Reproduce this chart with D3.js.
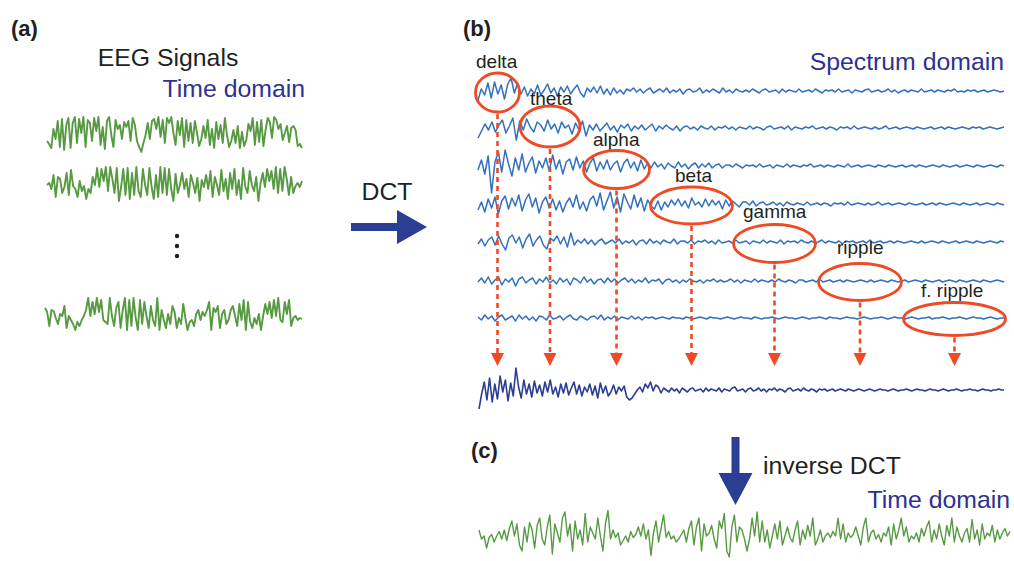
<!DOCTYPE html>
<html><head><meta charset="utf-8">
<script src="https://cdn.jsdelivr.net/npm/d3@7"></script>
<style>body{margin:0;background:#fff}svg{display:block}text{font-family:"Liberation Sans",Arial,sans-serif}</style>
</head><body>
<script>
// ---------- data (amplitude units ~ px) ----------
const eeg1 = [-6,-9,-13,6,-4,14,-12,16,-15,10,17,-13,12,18,-8,16,2,18,-12,15,12,-6,17,4,18,-10,8,-14,14,18,0,-12,15,6,10,-4,13,8,14,-6,17,10,-6,-12,-17,-8,0,12,-4,14,16,6,18,-2,15,-8,17,12,18,2,-10,14,0,17,-12,15,-6,12,-8,14,2,-11,-4,9,-3,15,-10,6,-13,13,-4,10,-8,17,0,-12,-6,5,-8,9,-13,3,-11,-5,11,4,17,-10,13,-7,15,-11,5,17,13,-3,18,15,6,11,-5,2,9,-7,7,9,5,-11,-9,-13];
const eeg2 = [-2,0,-6,8,-14,6,4,-10,-4,10,-12,13,-3,-6,-14,2,-8,-3,-16,-6,-10,6,-2,15,-4,14,2,16,-8,16,4,-10,15,-18,-4,14,-12,15,-16,10,-12,16,-8,-14,14,-2,-12,15,-4,-16,8,-14,16,-10,15,-12,14,-6,-18,9,-10,-2,10,-6,4,-14,8,0,-10,5,-18,3,-4,8,-6,12,-14,6,-2,-12,13,-8,4,-16,10,-6,14,-12,3,-16,15,-4,-10,12,-2,-8,6,-18,0,10,-4,14,2,12,-6,16,-10,14,-8,16,4,-12,6,-10,-3,0,-4,2];
const eeg3 = [6,2,-12,4,3,-4,-10,0,-2,8,-14,-2,-6,-10,-16,-8,-12,-6,-2,4,16,-2,12,0,16,2,14,-6,-8,-10,16,-2,-12,6,12,-14,4,16,-16,14,-12,16,-4,-16,14,-10,12,-2,-14,8,-6,-12,16,-16,4,-6,-14,0,-10,8,2,-14,-4,-10,10,-4,-16,-8,-6,-12,0,4,-6,2,-2,4,12,-16,6,2,8,-14,0,4,-10,-6,4,8,-2,-12,10,-6,14,-16,12,-8,-14,-4,-10,0,-16,-2,10,0,12,-4,14,-2,16,-6,-8,12,0,14,-12,-4,-2,-6,-4,-5];

const bandNames = ["delta","theta","alpha","beta","gamma","ripple","f. ripple"];

const specDelta = [-9,2,-4,8,-7,9,-3,6,-8,7,13,-2,8,-3,4,-5,2,-3,6,-4,1,7,-2,3,-5,4,-1,5,-3,2,6,-2,-6,3,-1,4,-2,5,-3,2,-4,3,-2,1,-3,2,0,3,-1,2,-2,1,3,-2,0,2,-1,3,-2,1,-1,2,-3,1,2,-1,0,3,-2,1,-1,2,0,-2,3,-1,1,-2,2,0,-1,1,-1,2,0,-2,1,2,-1,0,1,-2,2,-1,1,0,-1,2,-1,0,1,-1,2,0,-2,1,0,1,-1,2,-1,0,1,-2,1,0,-1,1,2,-1,0,1,-1,0,2,-1,1,-2,0,1,-1,1,0,-1,2,-1,0,1,-1,1,0,-1,1,0,2,-1,0,-1,1,0,1,-1,0,1,-1,0,1,0,-1,0];
const specTheta = [-10,-3,4,-2,6,-4,3,8,-5,2,10,-12,7,-2,9,1,-4,6,3,-3,8,-1,4,-5,6,0,3,-6,5,-2,7,-8,3,-2,4,-3,1,5,-2,2,-4,3,0,4,-3,2,-1,3,-2,1,4,-3,2,-1,3,0,-2,2,-3,1,2,-1,1,-2,2,0,-1,2,-2,1,0,2,-1,1,-2,1,0,-1,2,-1,1,0,-2,1,2,-1,0,1,-1,2,-2,1,0,-1,1,0,2,-1,0,1,-1,1,0,-2,1,0,1,-1,2,-1,0,1,0,-1,1,-1,0,2,-1,0,1,-1,0,1,0,-1,1,0,-1,0,1,-1,0,1,-1,1,0,-1,0,1,0,-1,1,0,1,-1,0,1,0,-1,0,1];
const specAlpha = [-4,6,-8,10,-27,4,14,-6,16,2,-10,8,-4,12,-6,3,9,-7,5,-2,8,-5,11,-3,6,-8,4,7,-4,9,-2,5,-6,3,8,-5,4,-3,6,-4,2,5,-6,3,7,-2,4,-5,6,-3,3,-2,4,-1,2,-3,3,0,-2,4,-1,2,-3,1,3,-2,2,-1,3,-2,1,2,-2,1,1,-1,2,0,-2,1,0,1,-1,2,-1,0,1,-2,1,0,-1,2,-1,1,0,-1,1,0,2,-1,0,1,-1,1,0,-1,1,0,-1,2,-1,0,1,-1,0,1,0,-1,1,0,-1,1,0,-1,0,1,-1,0,1,-1,1,0,-1,0,1,0,-1,1,0,-1,0,1,-1,0,1,0,-1,1,0,-1,0,1,0,-1,1,0];
const specBeta = [-6,2,-8,5,-4,7,-10,3,8,-5,6,-2,9,-7,4,10,-3,6,-9,2,7,-4,5,-6,3,-8,1,6,-3,9,-5,2,-7,4,8,-2,11,-6,3,12,-4,7,-8,10,2,-5,9,-3,6,-7,4,-2,-5,3,-6,2,-3,4,-1,5,-2,3,-4,6,-1,2,-3,5,-2,4,-1,3,-5,4,-2,3,0,-3,2,2,-1,3,-2,1,2,-1,0,2,-1,1,-2,2,0,-1,1,0,-1,2,-1,0,1,-1,1,0,-2,1,0,1,-1,2,-1,0,1,0,-1,1,-1,0,2,-1,0,1,-1,0,1,0,-1,1,0,-1,0,1,-1,0,1,-1,1,0,-1,0,1,0,-1,1,0,-1,0,1,-1,0,1,0,-1,1,0,-1];
const specGamma = [-2,3,-4,2,5,-3,6,-2,-8,4,7,-1,5,-6,3,8,-4,2,6,-3,-7,4,1,6,-2,5,-5,9,-3,2,-1,3,-2,2,-3,1,3,-2,0,2,-1,3,-2,1,-1,2,-3,1,2,-2,3,-1,1,-2,2,0,-1,3,-2,1,1,-1,2,-2,1,0,2,-1,1,-2,2,-1,0,1,-1,2,-1,0,1,-2,1,0,-1,2,-1,1,0,-1,2,-2,1,0,1,-1,2,0,-1,1,-1,0,2,-1,1,0,-1,1,-2,1,0,1,-1,0,1,-1,2,-1,0,1,-1,0,1,-1,1,0,-1,0,1,0,-1,1,-1,0,1,0,-1,1,0,-1,0,1,-1,0,1,0,-1,1,0,-1,0,1,0,-1,1,0];
const specRipple = [-1,3,-2,4,-3,1,4,-4,2,-1,3,-5,2,4,-2,1,3,-3,2,-1,4,-2,1,-3,3,-1,2,-4,3,1,-2,4,-1,2,-3,1,2,-2,3,-1,2,-2,1,3,-1,2,-2,1,-1,3,-2,1,0,2,-3,1,2,-1,1,-2,1,-1,2,0,-1,1,-2,1,0,2,-1,1,-1,0,2,-1,1,-2,1,0,-1,2,-1,1,0,-1,1,-1,2,0,-1,1,0,-2,1,1,-1,0,1,-1,2,-1,0,1,-1,0,1,-1,1,0,-1,0,1,0,-1,1,-1,0,1,0,-1,1,0,-1,0,1,-1,0,1,0,-1,1,0,-1,0,1,-1,0,1,0,-1,1,0,-1,0,1,0,-1,1,0,-1,0,1,0,-1];
const specFast = [1,-2,3,-1,2,-3,1,3,-2,0,2,-3,3,-1,2,-2,1,-3,2,1,-2,3,-1,0,2,-2,1,3,-1,-2,2,0,-2,1,2,-1,3,-2,1,-1,2,-2,1,0,-1,2,-1,1,-2,1,0,1,-1,0,1,0,-1,1,0,0,-1,1,0,-1,0,1,0,-1,1,0,0,-1,0,1,0,-1,0,1,0,0,-1,1,0,-1,0,0,1,0,-1,0,1,0,0,-1,0,1,0,-1,0,0,1,0,-1,1,0,0,-1,0,1,0,0,-1,0,1,0,-1,0,0,1,0,-1,0,1,0,0,-1,0,1,0,-1,0,0,1,-1,0,0,1,0,-1,0,0,1,0,-1,0,1,0,0,-1,0,1,0,-1,0,0];

const spectrum = [-19,-4,8,-10,12,-12,6,-9,14,-2,10,-11,7,-6,22,3,-8,10,-4,6,-7,9,-3,5,-6,8,-2,10,-4,3,-7,6,-3,7,-5,2,8,-4,5,-6,3,-2,6,-5,4,-8,7,-3,4,-6,-2,5,-4,3,-1,4,-7,-10,-8,-4,0,3,-2,6,2,8,-1,5,3,-3,2,0,-2,2,-1,1,-3,2,0,-2,1,2,-1,0,1,-2,2,-1,1,0,-1,2,-2,1,0,-1,2,3,-1,0,1,-2,1,2,-1,0,2,-1,1,-2,1,0,2,-1,1,0,-2,1,2,-1,0,1,-1,2,0,-1,1,0,-2,1,0,1,-1,0,1,-1,0,1,0,-1,1,0,-1,0,1,0,-1,0,1,0,-1,0,1,0,0,-1,0,1,0,-1,0,0,1,0,-1,0,1,0,0,-1,0,1,0,0,-1,0,1,0,-1,0,0,1,0,-1,0,0,1,0,0,-1,0,1,0,0,-1,0,0,1,0,0];

const reconstructed = [2,-4,-2,-10,-3,-1,-6,-2,1,-4,2,-5,3,8,-2,6,-8,-12,4,-6,7,2,-10,5,10,-4,-8,4,12,-14,6,0,-6,10,14,-2,6,-12,8,-4,2,-8,13,-6,4,0,-4,10,-2,-12,6,15,-4,2,-3,0,-8,-5,-2,-6,1,-3,-1,4,-2,6,-4,2,-15,0,8,-6,3,12,-3,1,-4,-2,-6,-4,-1,2,-6,3,8,-8,4,10,-12,6,-2,0,5,-4,-10,8,3,13,-12,-16,4,12,-6,4,2,-4,-12,-4,10,-2,14,-6,8,-6,2,-10,-2,6,-4,8,-8,-2,4,-3,-6,2,8,-8,2,-4,5,-2,10,-8,-4,2,-6,-2,0,-3,1,-2,10,-4,6,-6,0,-3,-1,4,-2,-8,4,10,-6,0,2,-4,-1,-6,0,-2,4,-8,6,-4,2,10,-2,4,-6,-2,-4,0,-6,3,-2,4,8,-6,2,-4,6,-2,-8,5,-2,10,-6,4,-2,-6,0,3,-6,9,-4,2,-8,6,-4,0,-2,5,-6,2,-4,0,3,-2,1];

// ---------- layout ----------
const W = 1014, H = 561;
const C = {green:"#579a42", blue:"#3370bf", dark:"#2c3d94", red:"#ee4a26", text:"#231f20", title:"#2e3192"};
const FS = 24.8, FL = 19, FP = 22;
const svg = d3.select("body").append("svg").attr("width", W).attr("height", H);

function trace(vals, x0, x1, cy, color, w, gain = 1){
  const x = d3.scaleLinear().domain([0, vals.length - 1]).range([x0, x1]);
  const y = d3.scaleLinear().domain([-10, 10]).range([cy + 10 * gain, cy - 10 * gain]);
  svg.append("path").datum(vals)
    .attr("d", d3.line().x((d, i) => x(i)).y(d => y(d)))
    .attr("fill", "none").attr("stroke", color).attr("stroke-width", w)
    .attr("stroke-linejoin", "round");
}
function txt(s, x, y, size, opts = {}){
  svg.append("text").attr("x", x).attr("y", y).text(s)
    .attr("font-size", size).attr("fill", opts.fill || C.text)
    .attr("font-weight", opts.bold ? "bold" : null)
    .attr("text-anchor", opts.anchor || "start");
}

// panel (a)
txt("(a)", 11, 36, FP, {bold:true});
txt("EEG Signals", 168, 66, FS, {anchor:"middle"});
txt("Time domain", 305, 97, FS, {anchor:"end", fill:C.title});
trace(eeg1, 47, 302, 135, C.green, 1.9);
trace(eeg2, 47, 302, 183, C.green, 1.9);
trace(eeg3, 45, 302, 314, C.green, 1.9);
[236, 246, 256].forEach(cy => svg.append("circle").attr("cx", 177).attr("cy", cy).attr("r", 2.2).attr("fill", C.text));

// DCT arrow
txt("DCT", 387, 200, FS, {anchor:"middle"});
svg.append("path").attr("fill", C.dark)
  .attr("d", "M351,223 L397,223 L397,210 L427,227 L397,244 L397,231 L351,231 Z");

// panel (b)
txt("(b)", 463, 36, FP, {bold:true});
txt("Spectrum domain", 1004, 70, FS, {anchor:"end", fill:C.title});
const rows = [specDelta, specTheta, specAlpha, specBeta, specGamma, specRipple, specFast];
const rowY = [91, 128, 166, 204, 242, 281, 318];
rows.forEach((r, i) => trace(r, 478, 1004, rowY[i], C.blue, 1.5));

const ell = [
  {cx:497.5, cy:92.5, rx:22, ry:19.5, lx:476, ly:68},
  {cx:550, cy:126.5, rx:30, ry:20.5, lx:530, ly:105},
  {cx:616.5, cy:169.5, rx:33, ry:19, lx:593, ly:146},
  {cx:691.5, cy:205.5, rx:41, ry:18.5, lx:675, ly:182},
  {cx:774.5, cy:243.5, rx:41, ry:19, lx:743, ly:218},
  {cx:860, cy:282, rx:41.5, ry:18.5, lx:837, ly:254},
  {cx:954.5, cy:319, rx:51, ry:16.5, lx:921, ly:297}
];
ell.forEach((e, i) => {
  txt(bandNames[i], e.lx, e.ly, FL);
  svg.append("ellipse").attr("cx", e.cx).attr("cy", e.cy).attr("rx", e.rx).attr("ry", e.ry)
    .attr("fill", "none").attr("stroke", C.red).attr("stroke-width", 2.8);
  svg.append("line").attr("x1", e.cx).attr("x2", e.cx).attr("y1", e.cy + e.ry + 2).attr("y2", 354)
    .attr("stroke", C.red).attr("stroke-width", 2.6).attr("stroke-dasharray", "5,4");
  svg.append("path").attr("fill", C.red)
    .attr("d", `M${e.cx - 6.5},353 L${e.cx + 6.5},353 L${e.cx},366 Z`);
});
trace(spectrum, 479, 1004, 390, C.dark, 1.6);

// panel (c)
txt("(c)", 471, 458, FP, {bold:true});
svg.append("path").attr("fill", C.dark)
  .attr("d", "M731.5,437 L739.5,437 L739.5,473 L752.5,473 L735.5,505 L718.5,473 L731.5,473 Z");
txt("inverse DCT", 763, 474, FS);
txt("Time domain", 1010, 508, FS, {anchor:"end", fill:C.title});
trace(reconstructed, 479, 1010, 533, C.green, 1.4, 1.5);
</script>
</body></html>
